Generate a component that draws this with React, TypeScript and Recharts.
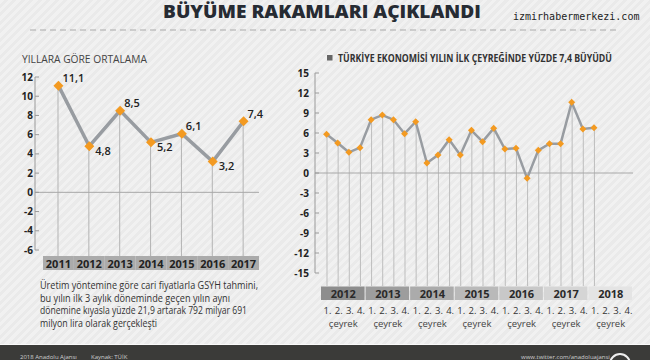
import React from "react";
import {
  ComposedChart,
  Line,
  Bar,
  XAxis,
  YAxis,
  ReferenceLine,
  LabelList,
} from "recharts";

// yillik buyume (sol grafik)
const years = ["2011", "2012", "2013", "2014", "2015", "2016", "2017"];
const annualGrowth = [11.1, 4.8, 8.5, 5.2, 6.1, 3.2, 7.4];
const annualTicks = [-6, -4, -2, 0, 2, 4, 6, 8, 10, 12];

// ceyreklik buyume (sag grafik)
const quarterYears = ["2012", "2013", "2014", "2015", "2016", "2017", "2018"];
const quarterNames = ["1.", "2.", "3.", "4."];
const quarterlyGrowth = [
  5.8, 4.5, 3.1, 3.8,
  8.0, 8.7, 8.0, 5.9,
  7.7, 1.5, 2.7, 5.0,
  2.7, 6.4, 4.7, 6.7,
  3.6, 3.7, -0.8, 3.4,
  4.4, 4.4, 10.6, 6.6,
  6.8,
];
const quarterTicks = [-15, -12, -9, -6, -3, 0, 3, 6, 9, 12, 15];
const yearShades = ["#8d8d8d", "#9d9d9d", "#ababab", "#b9b9b9", "#c8c8c8", "#d5d5d5", "#e4e4e4"];

const texts = {
  title: "BÜYÜME RAKAMLARI AÇIKLANDI",
  site: "izmirhabermerkezi.com",
  leftHeading: "YILLARA GÖRE ORTALAMA",
  rightHeading: "TÜRKİYE EKONOMİSİ YILIN İLK ÇEYREĞİNDE YÜZDE 7,4 BÜYÜDÜ",
  quarterWord: "çeyrek",
  note: [
    "Üretim yöntemine göre cari fiyatlarla GSYH tahmini,",
    "bu yılın ilk 3 aylık döneminde geçen yılın aynı",
    "dönemine kıyasla yüzde 21,9 artarak 792 milyar 691",
    "milyon lira olarak gerçekleşti",
  ],
};

const annualData = years.map((year, i) => ({
  year,
  value: annualGrowth[i],
  stem: [-6, annualGrowth[i]],
}));

const quarterData = quarterYears.flatMap((year, yi) =>
  quarterNames.map((q, qi) => {
    const v = quarterlyGrowth[yi * 4 + qi];
    return {
      key: `${year}-${qi + 1}`,
      year,
      quarter: q,
      value: v ?? null,
      stem: v == null ? null : [-15, v],
    };
  })
);

const FONT = "'Open Sans', sans-serif";
const ORANGE = "#f39a21";
const LINE_GREY = "#989ca1";

// layout
const LEFT_W = 265;
const LEFT_PAD = 8;
const LEFT_STEP = (LEFT_W - 6 - 35 - LEFT_PAD) / years.length;
const RIGHT_W = 358;
const RIGHT_PAD = 6;
const RIGHT_STEP = (RIGHT_W - 5 - 35 - RIGHT_PAD) / quarterData.length;
const HEAD_SCALE = 0.78;

const Diamond = (props: any) => {
  const { cx, cy, r } = props;
  if (cx == null || cy == null) return null;
  return (
    <path
      d={`M${cx},${cy - r}L${cx + r},${cy}L${cx},${cy + r}L${cx - r},${cy}Z`}
      fill={ORANGE}
    />
  );
};

const Stem = (props: any) => {
  const { x, y, width, height, ext, color } = props;
  if (x == null || y == null || height == null) return null;
  const cx = x + width / 2;
  const top = Math.min(y, y + height);
  const bottom = Math.max(y, y + height);
  return (
    <line x1={cx} x2={cx} y1={top} y2={bottom + ext} stroke={color} strokeWidth={1} />
  );
};

const ValueLabel = (props: any) => {
  const { x, y, value, index } = props;
  const up = index % 2 === 0;
  return (
    <text
      x={x + (up ? 4 : 6)}
      y={y + (up ? -8 : 4)}
      dominantBaseline="central"
      fontSize={11}
      fontWeight={600}
      fill="#222"
      fontFamily={FONT}
    >
      {Number(value).toFixed(1).replace(".", ",")}
    </text>
  );
};

const YearTick = (props: any) => {
  const { x, y, payload } = props;
  return (
    <g>
      <rect x={x - LEFT_STEP / 2} y={y + 6} width={LEFT_STEP} height={14} fill="#ababab" />
      <text
        x={x}
        y={y + 13.5}
        textAnchor="middle"
        dominantBaseline="central"
        fontSize={11}
        fontWeight={700}
        fill="#222"
        fontFamily={FONT}
      >
        {payload.value}
      </text>
    </g>
  );
};

const QuarterTick = (props: any) => {
  const { x, y, index } = props;
  const row = quarterData[index];
  if (!row) return null;
  const qi = index % 4;
  const yi = Math.floor(index / 4);
  return (
    <g fontFamily={FONT}>
      {qi === 0 && (
        <g>
          <rect
            x={x - RIGHT_STEP / 2}
            y={y + 13.5}
            width={RIGHT_STEP * 4 - 1}
            height={13.5}
            fill={yearShades[yi]}
          />
          <text
            x={x + RIGHT_STEP * 1.5}
            y={y + 20.5}
            textAnchor="middle"
            dominantBaseline="central"
            fontSize={11}
            fontWeight={700}
            fill="#2a2a2a"
          >
            {row.year}
          </text>
          <text
            x={x + RIGHT_STEP * 1.5}
            y={y + 50}
            textAnchor="middle"
            dominantBaseline="central"
            fontSize={9.5}
            fill="#444"
          >
            {texts.quarterWord}
          </text>
        </g>
      )}
      <text
        x={x + 1}
        y={y + 37}
        textAnchor="middle"
        dominantBaseline="central"
        fontSize={9.5}
        fill="#333"
      >
        {row.quarter}
      </text>
    </g>
  );
};

const axisTick = { fontSize: 10, fontWeight: 700, fill: "#222", fontFamily: FONT };

const Decor = () => (
  <svg width={650} height={360} style={{ position: "absolute", left: 0, top: 0 }}>
    <text
      x={163}
      y={18}
      fontSize={18}
      fontWeight={800}
      fill="#262b33"
      fontFamily={FONT}
      textLength={318}
      lengthAdjust="spacingAndGlyphs"
    >
      {texts.title}
    </text>
    <text x={513} y={20} fontSize={10} fill="#222" fontFamily="'DejaVu Sans Mono', monospace">
      {texts.site}
    </text>
    <line x1={30} x2={620} y1={30} y2={30} stroke="#aaa" strokeWidth={1} strokeDasharray="6 4" />
    <text
      x={22}
      y={63}
      fontSize={11}
      fill="#444"
      fontFamily={FONT}
      textLength={125}
      lengthAdjust="spacingAndGlyphs"
    >
      {texts.leftHeading}
    </text>
    <rect x={327} y={55} width={5.5} height={5.5} fill="#666" />
    <g transform={`translate(338, 61.5) scale(${HEAD_SCALE}, 1)`}>
      <text
        x={0}
        y={0}
        fontSize={11}
        fontWeight={700}
        fill="#333"
        fontFamily={FONT}
        textLength={274 / HEAD_SCALE}
        lengthAdjust="spacingAndGlyphs"
      >
        {texts.rightHeading}
      </text>
    </g>
    {texts.note.map((line, i) => (
      <text
        key={i}
        x={40}
        y={289 + i * 12.7}
        fontSize={10.5}
        fill="#333"
        fontFamily={FONT}
        textLength={[218, 190, 207, 117][i]}
        lengthAdjust="spacingAndGlyphs"
      >
        {line}
      </text>
    ))}
    <line x1={0} x2={650} y1={344.5} y2={344.5} stroke="#fafafa" strokeWidth={1} />
    <rect x={0} y={345} width={650} height={15} fill="#3b3b39" />
    <g fontFamily={FONT} fontSize={6} fill="#cfcfcf">
      <text x={20} y={359}>2018 Anadolu Ajansı</text>
      <text x={91} y={359}>Kaynak: TÜİK</text>
      <text x={521} y={359}>www.twitter.com/anadoluajansi</text>
    </g>
    <circle cx={620} cy={364} r={10} fill="none" stroke="#eee" strokeWidth={2} />
  </svg>
);

export default function App() {
  return (
    <div
      style={{
        position: "fixed",
        left: 0,
        top: 0,
        width: 650,
        height: 360,
        overflow: "hidden",
        background:
          "repeating-linear-gradient(135deg, #f1f1f1 0px, #f1f1f1 3px, #eaeaea 3px, #eaeaea 6px)",
      }}
    >
      <Decor />
      <div style={{ position: "absolute", left: 0, top: 0 }}>
        <ComposedChart
          width={LEFT_W}
          height={272}
          data={annualData}
          margin={{ top: 77, right: 6, left: 5, bottom: 0 }}
        >
          <XAxis
            dataKey="year"
            interval={0}
            axisLine={false}
            tickLine={false}
            tickSize={0}
            tickMargin={0}
            height={22}
            padding={{ left: LEFT_PAD, right: 0 }}
            tick={<YearTick />}
          />
          <YAxis
            width={30}
            domain={[-6, 12]}
            ticks={annualTicks}
            interval={0}
            axisLine={{ stroke: "#9a9a9a" }}
            tickLine={{ stroke: "#9a9a9a" }}
            tickSize={-4}
            tickMargin={6}
            tick={axisTick}
          />
          <ReferenceLine y={0} stroke="#a8a8a8" strokeWidth={1} />
          <Bar
            dataKey="stem"
            barSize={2}
            isAnimationActive={false}
            shape={<Stem ext={6} color="#b3b3b3" />}
          />
          <Line
            dataKey="value"
            stroke={LINE_GREY}
            strokeWidth={3.5}
            isAnimationActive={false}
            dot={(p: any) => <Diamond key={`d-${p.index}`} cx={p.cx} cy={p.cy} r={5} />}
            activeDot={false}
          >
            <LabelList dataKey="value" content={<ValueLabel />} />
          </Line>
        </ComposedChart>
      </div>
      <div style={{ position: "absolute", left: 280, top: 0 }}>
        <ComposedChart
          width={RIGHT_W}
          height={330}
          data={quarterData}
          margin={{ top: 73, right: 5, left: 5, bottom: 0 }}
        >
          <XAxis
            dataKey="key"
            interval={0}
            axisLine={false}
            tickLine={false}
            tickSize={0}
            tickMargin={0}
            height={57}
            padding={{ left: RIGHT_PAD, right: 0 }}
            tick={<QuarterTick />}
          />
          <YAxis
            width={30}
            domain={[-15, 15]}
            ticks={quarterTicks}
            interval={0}
            axisLine={{ stroke: "#9a9a9a" }}
            tickLine={{ stroke: "#9a9a9a" }}
            tickSize={-4}
            tickMargin={10}
            tick={axisTick}
          />
          <ReferenceLine y={0} stroke="#a8a8a8" strokeWidth={1} />
          <Bar
            dataKey="stem"
            barSize={2}
            isAnimationActive={false}
            shape={<Stem ext={13} color="#bdbdbd" />}
          />
          <Line
            dataKey="value"
            stroke={LINE_GREY}
            strokeWidth={2.5}
            isAnimationActive={false}
            connectNulls={false}
            dot={(p: any) => <Diamond key={`q-${p.index}`} cx={p.cx} cy={p.cy} r={3.5} />}
            activeDot={false}
          />
        </ComposedChart>
      </div>
    </div>
  );
}
